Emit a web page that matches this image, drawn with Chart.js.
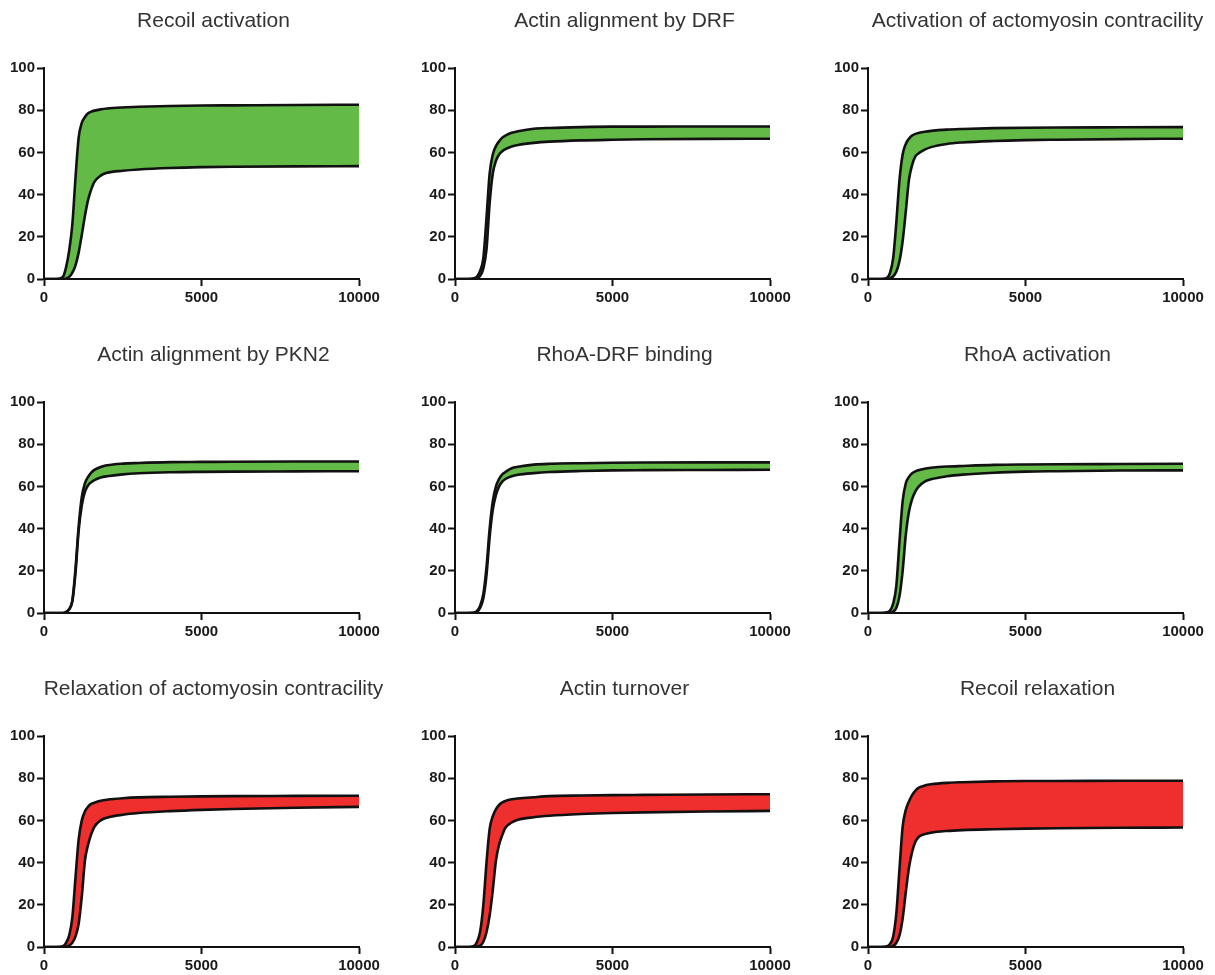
<!DOCTYPE html>
<html>
<head>
<meta charset="utf-8">
<script src="https://cdn.jsdelivr.net/npm/chart.js@4.4.1/dist/chart.umd.min.js"></script>
<style>
html,body{margin:0;padding:0;background:#fff;overflow:hidden;}
body{width:1215px;height:975px;position:relative;}
.panel{position:absolute;width:405px;height:305px;}
</style>
</head>
<body>
<div class="panel" style="left:-6px;top:2px"><canvas id="c0" width="405" height="305"></canvas></div>
<div class="panel" style="left:405px;top:2px"><canvas id="c1" width="405" height="305"></canvas></div>
<div class="panel" style="left:818px;top:2px"><canvas id="c2" width="405" height="305"></canvas></div>
<div class="panel" style="left:-6px;top:336px"><canvas id="c3" width="405" height="305"></canvas></div>
<div class="panel" style="left:405px;top:336px"><canvas id="c4" width="405" height="305"></canvas></div>
<div class="panel" style="left:818px;top:336px"><canvas id="c5" width="405" height="305"></canvas></div>
<div class="panel" style="left:-6px;top:670px"><canvas id="c6" width="405" height="305"></canvas></div>
<div class="panel" style="left:405px;top:670px"><canvas id="c7" width="405" height="305"></canvas></div>
<div class="panel" style="left:818px;top:670px"><canvas id="c8" width="405" height="305"></canvas></div>
<script>
/* ===== Data ===== */
const time = [0,400,600,700,800,900,1000,1100,1200,1300,1400,1500,1600,1800,2000,2500,3000,4000,5000,6000,8000,10000];
const xTicks = [0,5000,10000];
const yTicks = [0,20,40,60,80,100];

const titles = [
  'Recoil activation','Actin alignment by DRF','Activation of actomyosin contracility',
  'Actin alignment by PKN2','RhoA-DRF binding','RhoA activation',
  'Relaxation of actomyosin contracility','Actin turnover','Recoil relaxation'
];

const recoilActUpper   = [0,0,1,5.5,13.5,26,48,67,74,76.8,78.5,79.3,79.8,80.4,80.8,81.3,81.6,82,82.2,82.3,82.5,82.6];
const recoilActLower   = [0,0,0,0.3,1,3,6.5,12.5,21,30,37.5,42.5,46,49,50.3,51.3,51.9,52.6,53,53.2,53.4,53.5];
const drfAlignUpper    = [0,0,0.3,1.2,4,10,29,50,59,63,65.3,67,68,69.3,70,71.2,71.6,72,72.2,72.2,72.3,72.3];
const drfAlignLower    = [0,0,0,0.3,1.5,5,14,36,50,56,59,60.5,61.5,62.8,63.5,64.5,65.1,65.7,66,66.2,66.4,66.5];
const contractActUpper = [0,0,0.5,3,10,27,47,59,64,66.5,68,68.8,69.2,69.8,70.2,70.8,71.1,71.5,71.7,71.8,71.9,72];
const contractActLower = [0,0,0,0.3,1.2,3.5,8.5,18,32,47,54,58,59.5,61.3,62.5,64,64.7,65.4,65.8,66,66.3,66.5];
const pkn2AlignUpper   = [0,0,0,0.5,2,6,21,41,55,61.5,64.5,66.5,67.8,69.2,70,70.8,71.1,71.5,71.6,71.7,71.8,71.8];
const pkn2AlignLower   = [0,0,0,0.4,1.7,5.5,19,39,51,57.5,60.5,62,63,64.2,64.8,65.7,66.2,66.7,66.9,67,67.1,67.2];
const drfBindUpper     = [0,0,0.2,1,3.5,9,21.7,40,53,60,63.5,65.7,66.8,68.6,69.3,70.3,70.7,71,71.2,71.3,71.4,71.4];
const drfBindLower     = [0,0,0,0.5,2.5,7,18,36,49,56,60,62.3,63.5,64.8,65.5,66.3,66.8,67.3,67.6,67.7,67.8,67.9];
const rhoaActUpper     = [0,0,0.3,1.2,4.5,13,34,53,61.5,64.5,66.2,67.1,67.7,68.4,68.8,69.4,69.7,70.2,70.4,70.5,70.6,70.7];
const rhoaActLower     = [0,0,0,0.2,0.7,2.5,8,20,37,48,54,57.5,59.8,62.3,63.4,64.8,65.6,66.5,67,67.2,67.5,67.6];
const contractRelUpper = [0,0,0.3,2,5.5,14,33,51,60,64.3,66.5,67.8,68.4,69.3,69.8,70.5,70.9,71.2,71.4,71.5,71.6,71.7];
const contractRelLower = [0,0,0,0.2,0.7,2,5,11,24,41,48.5,53.5,57,60,61.3,62.7,63.5,64.4,65,65.4,66,66.4];
const turnoverUpper    = [0,0,0.5,2.5,7.5,20,40,56,62,65.3,67.3,68.5,69.2,70,70.4,71,71.5,71.8,72,72.1,72.3,72.4];
const turnoverLower    = [0,0,0,0.3,0.6,2.5,7,15,27,41,48.5,53,56.5,59,60.3,61.5,62.2,63,63.5,63.8,64.2,64.5];
const recoilRelUpper   = [0,0,0.3,1.5,5,16,37,57,65,69,72,74,75.4,76.5,77.1,77.8,78.1,78.5,78.7,78.7,78.8,78.8];
const recoilRelLower   = [0,0,0,0,0.5,2,5.5,13.5,26,37.5,45,49.8,52,53.5,54.2,55,55.4,55.8,56.1,56.3,56.5,56.6];

const uppers = [recoilActUpper,drfAlignUpper,contractActUpper,pkn2AlignUpper,drfBindUpper,rhoaActUpper,contractRelUpper,turnoverUpper,recoilRelUpper];
const lowers = [recoilActLower,drfAlignLower,contractActLower,pkn2AlignLower,drfBindLower,rhoaActLower,contractRelLower,turnoverLower,recoilRelLower];
const kinds  = ['on','on','on','on','on','on','off','off','off'];

/* ===== Style ===== */
const GREEN = '#63ba47', RED = '#ee2f2d', LINE = '#111';
const tickFont = {family:'"Liberation Sans", Arial, sans-serif', size:15, weight:'bold'};

// panel title, drawn a little right of the plot centre like the original
const panelTitle = {
  id:'panelTitle',
  afterDraw(chart, args, opts){
    const {ctx, chartArea} = chart;
    ctx.save();
    ctx.font = '21px "Liberation Sans", Arial, sans-serif';
    ctx.fillStyle = '#333';
    ctx.textAlign = 'center';
    ctx.textBaseline = 'alphabetic';
    ctx.fillText(opts.text, (chartArea.left+chartArea.right)/2 + 12, chartArea.top - 41);
    ctx.restore();
  }
};

function axisGrid(){
  return {display:true, drawOnChartArea:false, drawTicks:true, tickLength:7, tickWidth:2, tickColor:LINE};
}

function makePanel(i){
  const pts = arr => time.map((t,k)=>({x:t, y:arr[k]}));
  new Chart(document.getElementById('c'+i), {
    type:'line',
    data:{datasets:[
      {data:pts(uppers[i]), borderColor:LINE, borderWidth:2.6, backgroundColor: kinds[i]==='on'?GREEN:RED,
       fill:'+1', pointRadius:0, cubicInterpolationMode:'monotone'},
      {data:pts(lowers[i]), borderColor:LINE, borderWidth:2.6, fill:false, pointRadius:0, cubicInterpolationMode:'monotone'}
    ]},
    options:{
      responsive:false, animation:false, events:[],
      layout:{padding:{left:0, top:66, right:40, bottom:0}},
      plugins:{legend:{display:false}, tooltip:{enabled:false}, title:{display:false},
               filler:{drawTime:'beforeDatasetsDraw'}, panelTitle:{text:titles[i]}},
      scales:{
        x:{type:'linear', min:0, max:10000,
           afterBuildTicks: s => { s.ticks = xTicks.map(v=>({value:v})); },
           afterFit: s => { s.height = 28; },
           ticks:{font:tickFont, color:'#1a1a1a', padding:3, maxRotation:0, callback:v=>String(v)},
           grid:axisGrid(), border:{display:true, color:LINE, width:2}},
        y:{min:0, max:100,
           afterBuildTicks: s => { s.ticks = yTicks.map(v=>({value:v})); },
           afterFit: s => { s.width = 50; },
           ticks:{font:tickFont, color:'#1a1a1a', padding:2, callback:v=>String(v)},
           grid:axisGrid(), border:{display:true, color:LINE, width:2}}
      }
    },
    plugins:[panelTitle]
  });
}

for(let i=0;i<9;i++) makePanel(i);
</script>
</body>
</html>
